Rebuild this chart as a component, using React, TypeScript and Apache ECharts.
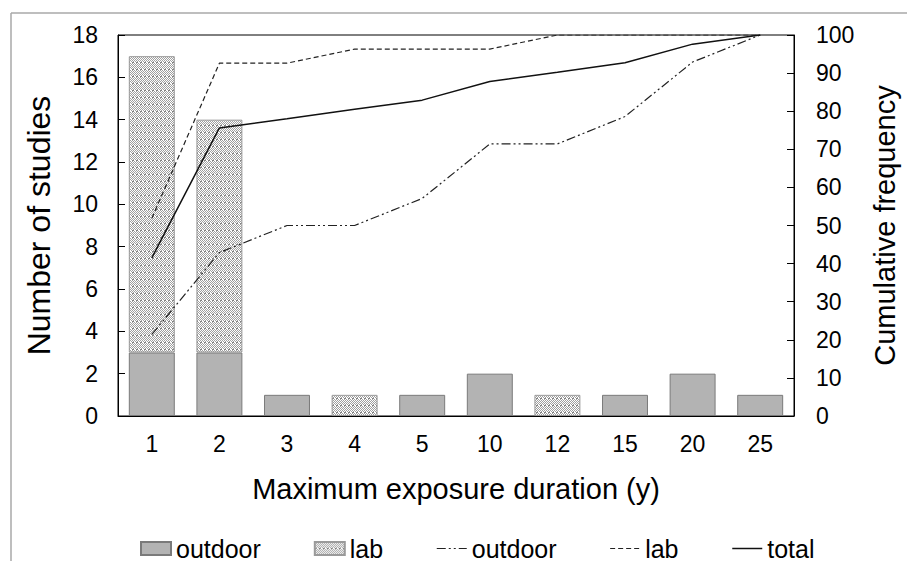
import React, { useEffect, useRef } from "react";
import * as echarts from "echarts";

const categories = ["1", "2", "3", "4", "5", "10", "12", "15", "20", "25"];
const outdoorCounts = [3, 3, 1, 0, 1, 2, 0, 1, 2, 1];
const labCounts = [14, 11, 0, 1, 0, 0, 1, 0, 0, 0];
const outdoorCumulative = [21.4, 42.9, 50, 50, 57.1, 71.4, 71.4, 78.6, 92.9, 100];
const labCumulative = [51.9, 92.6, 92.6, 96.3, 96.3, 96.3, 100, 100, 100, 100];
const totalCumulative = [41.5, 75.6, 78.0, 80.5, 82.9, 87.8, 90.2, 92.7, 97.6, 100];

const FONT = "'Liberation Sans', Arial, sans-serif";

function makePattern(): string {
  const c = document.createElement("canvas");
  c.width = 4;
  c.height = 7;
  const ctx = c.getContext("2d")!;
  ctx.fillStyle = "#ffffff";
  ctx.fillRect(0, 0, 4, 7);
  for (let y = 0; y < 7; y++) {
    for (let x = 0; x < 4; x++) {
      if (y === 6) {
        ctx.fillStyle = x < 2 ? "#808080" : "#ffffff";
        ctx.fillRect(x, y, 1, 1);
      } else if ((x + y) % 2 === 0) {
        ctx.fillStyle = "#a0a0a0";
        ctx.fillRect(x, y, 1, 1);
      }
    }
  }
  return c.toDataURL();
}

export default function App() {
  const ref = useRef<HTMLDivElement>(null);
  useEffect(() => {
    document.body.style.margin = "0";
    if (!ref.current) return;
    const chart = echarts.init(ref.current, null, { renderer: "svg" });
    const pattern = { image: makePattern(), repeat: "repeat" } as any;
    const toBar = (arr: number[]) => arr.map((v) => (v === 0 ? "-" : v));
    const outdoorDash = [9, 3, 2, 3, 2, 3];
    const labDash = [5, 3];
    const hiddenSymbol = { opacity: 0, color: "transparent", borderWidth: 0 };
    chart.setOption({
      animation: false,
      textStyle: { fontFamily: FONT, color: "#000" },
      grid: {
        left: 118,
        right: 112,
        top: 35,
        bottom: 145,
        show: true,
        borderColor: "#000",
        borderWidth: 1,
      },
      graphic: [
        { type: "line", shape: { x1: 11, y1: 13, x2: 907, y2: 13 }, style: { stroke: "#a8a8a8", lineWidth: 1.5 } },
        { type: "line", shape: { x1: 11, y1: 13, x2: 11, y2: 561 }, style: { stroke: "#a8a8a8", lineWidth: 1.5 } },
      ],
      legend: {
        left: 135,
        top: 531,
        itemWidth: 30,
        itemHeight: 13,
        itemGap: 53,
        textStyle: { fontFamily: FONT, fontSize: 25, color: "#000" },
        data: [
          { name: "outdoor", icon: "rect" },
          { name: "lab", icon: "rect" },
          { name: "outdoor ", itemStyle: hiddenSymbol, lineStyle: { color: "#222", width: 1.2, type: outdoorDash } },
          { name: "lab ", itemStyle: hiddenSymbol, lineStyle: { color: "#222", width: 1.2, type: labDash } },
          { name: "total", itemStyle: hiddenSymbol, lineStyle: { color: "#111", width: 1.5, type: "solid" } },
        ],
        formatter: (n: string) => n.trim(),
      },
      xAxis: {
        type: "category",
        data: categories,
        name: "Maximum exposure duration (y)",
        nameLocation: "middle",
        nameGap: 58,
        nameTextStyle: { fontSize: 29, fontFamily: FONT, color: "#000" },
        axisLine: { lineStyle: { color: "#000", width: 1 } },
        axisTick: { inside: true, length: 7, lineStyle: { color: "#000" } },
        axisLabel: { fontSize: 23, fontFamily: FONT, color: "#000", margin: 16 },
      },
      yAxis: [
        {
          type: "value",
          min: 0,
          max: 18,
          interval: 2,
          name: "Number of studies",
          nameLocation: "middle",
          nameGap: 63,
          nameTextStyle: { fontSize: 32, fontFamily: FONT, color: "#000" },
          axisLine: { show: true, lineStyle: { color: "#000", width: 1 } },
          axisTick: { show: true, inside: true, length: 7, lineStyle: { color: "#000" } },
          axisLabel: { fontSize: 23, fontFamily: FONT, color: "#000", margin: 20 },
          splitLine: { show: false },
        },
        {
          type: "value",
          min: 0,
          max: 100,
          interval: 10,
          position: "right",
          name: "Cumulative frequency",
          nameLocation: "middle",
          nameGap: 76,
          nameRotate: 90,
          nameTextStyle: { fontSize: 29, fontFamily: FONT, color: "#000" },
          axisLine: { show: true, lineStyle: { color: "#000", width: 1 } },
          axisTick: { show: true, inside: true, length: 7, lineStyle: { color: "#000" } },
          axisLabel: { fontSize: 23, fontFamily: FONT, color: "#000", margin: 22 },
          splitLine: { show: false },
        },
      ],
      series: [
        {
          name: "outdoor",
          type: "bar",
          stack: "n",
          yAxisIndex: 0,
          barCategoryGap: "32%",
          data: toBar(outdoorCounts),
          itemStyle: { color: "#b3b3b3", borderColor: "#7a7a7a", borderWidth: 1 },
        },
        {
          name: "lab",
          type: "bar",
          stack: "n",
          yAxisIndex: 0,
          barCategoryGap: "32%",
          data: toBar(labCounts),
          itemStyle: { color: pattern, borderColor: "#9a9a9a", borderWidth: 1 },
        },
        {
          name: "outdoor ",
          type: "line",
          yAxisIndex: 1,
          data: outdoorCumulative,
          symbol: "none",
          lineStyle: { color: "#222", width: 1.2, type: outdoorDash },
          itemStyle: { color: "#222" },
        },
        {
          name: "lab ",
          type: "line",
          yAxisIndex: 1,
          data: labCumulative,
          symbol: "none",
          lineStyle: { color: "#222", width: 1.2, type: labDash },
          itemStyle: { color: "#222" },
        },
        {
          name: "total",
          type: "line",
          yAxisIndex: 1,
          data: totalCumulative,
          symbol: "none",
          lineStyle: { color: "#111", width: 1.5, type: "solid" },
          itemStyle: { color: "#111" },
        },
      ],
    });
    return () => chart.dispose();
  }, []);
  return (
    <div
      ref={ref}
      style={{ position: "absolute", left: 0, top: 0, width: 907, height: 561, background: "#fff" }}
    />
  );
}
